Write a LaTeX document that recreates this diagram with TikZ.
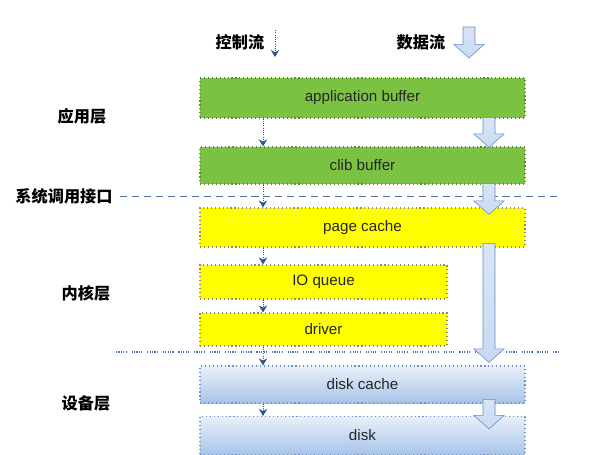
\documentclass[tikz,border=0pt]{standalone}
\usepackage{fontspec}
\setmainfont{Liberation Sans}
\newfontfamily\cjk{Noto Sans CJK SC}
\usepackage{tikz}
\usetikzlibrary{positioning, arrows, arrows.meta, calc}

\definecolor{appgreen}{RGB}{124,194,66}
\definecolor{appedge}{RGB}{88,140,60}
\definecolor{kernyellow}{RGB}{255,255,0}
\definecolor{kernedge}{RGB}{140,140,110}
\definecolor{devtop}{RGB}{232,240,250}
\definecolor{devbot}{RGB}{168,196,232}
\definecolor{devedge}{RGB}{110,146,200}
\definecolor{flowfill}{RGB}{200,218,242}
\definecolor{flowedge}{RGB}{100,140,196}
\definecolor{ctrlblue}{RGB}{45,85,145}
\definecolor{sepblue}{RGB}{80,115,165}

\tikzset{
  layerbox/.style={rectangle, inner sep=0pt, dotted, thick,
    font=\fontsize{10.8}{13}\selectfont, text=black!85},
  appbox/.style={layerbox, draw=appedge, fill=appgreen},
  kernbox/.style={layerbox, draw=kernedge, fill=kernyellow},
  devbox/.style={layerbox, draw=devedge, top color=devtop, bottom color=devbot},
  layerlabel/.style={font=\cjk\bfseries\fontsize{11.5}{13}\selectfont},
  ctrl/.style={-{Stealth[length=5pt,width=6pt]}, ctrlblue, densely dotted, semithick},
  dataarrow/.style={draw=flowedge, thin, top color=flowfill!70!white, bottom color=flowfill},
}

% fat data-flow arrow between two points on one vertical line
\newcommand\dataflow[2]{%
  \path[dataarrow] let \p1=(#1), \p2=(#2) in
    (\x1-0.15cm,\y1) -- (\x1-0.15cm,\y2+0.34cm) -- (\x1-0.38cm,\y2+0.34cm)
    -- (\x1,\y2) -- (\x1+0.38cm,\y2+0.34cm) -- (\x1+0.15cm,\y2+0.34cm)
    -- (\x1+0.15cm,\y1) -- cycle;}

\begin{document}
\begin{tikzpicture}[>=stealth', x=0.025cm, y=-0.025cm]
        \useasboundingbox (0,0) rectangle (607,455);
        % legend
        \node[layerlabel](ctrltitle) at (240,42) {控制流};
        \node[layerlabel](datatitle) at (421,42) {数据流};
        \coordinate (ctop) at (275,30);
        \coordinate (cbot) at (275,57);
        \coordinate (dtop) at (469,27);
        \coordinate (dbot) at (469,58);
        % layer names
        \node[layerlabel](applayer) at (82,116) {应用层};
        \node[layerlabel](syscall) at (64,196) {系统调用接口};
        \node[layerlabel](kernlayer) at (86,293) {内核层};
        \node[layerlabel](devlayer) at (86,403) {设备层};
        % separators
        \coordinate (sysL) at (120,196);
        \coordinate (sysR) at (560,196);
        \coordinate (devL) at (116,352);
        \coordinate (devR) at (560,352);
        \draw[sepblue, line width=0.6pt, dash pattern=on 5pt off 3.5pt] (sysL) -- (sysR);
        \draw[sepblue, line width=0.8pt, dash pattern=on 0.8pt off 0.9pt on 0.8pt off 0.9pt on 0.8pt off 0.9pt on 0.8pt off 0.9pt on 0.8pt off 3.5pt] (devL) -- (devR);
        % buffers
        \node[appbox, minimum width=8.125cm, minimum height=1cm](app) at (362.5,98) {application buffer};
        \node[appbox, minimum width=8.125cm, minimum height=0.925cm](clib) at (362.5,165.5) {clib buffer};
        \node[kernbox, minimum width=8.125cm, minimum height=0.975cm](page) at (362.5,227.5) {page cache};
        \node[kernbox, minimum width=6.175cm, minimum height=0.85cm](ioq) at (323.5,282) {IO queue};
        \node[kernbox, minimum width=6.175cm, minimum height=0.825cm](drv) at (323.5,329.5) {driver};
        \node[devbox, minimum width=8.125cm, minimum height=0.925cm](dcache) at (362.5,384.5) {disk cache};
        \node[devbox, minimum width=8.125cm, minimum height=0.95cm](disk) at (362.5,435.5) {disk};
        % control flow
        \coordinate (ccol) at (263,0);
        \coordinate (dcol) at (489,0);
        \draw[ctrl] (ctop) -- (cbot);
        \foreach \a/\b in {app/clib, clib/page, page/ioq, ioq/drv, drv/dcache, dcache/disk}
            \draw[ctrl] (\a.south -| ccol) -- (\b.north -| ccol);
        % data flow
        \dataflow{dtop}{dbot}
        \dataflow{$(app.south -| dcol)+(0,-1)$}{$(clib.north -| dcol)+(0,1)$}
        \dataflow{$(clib.south -| dcol)+(0,-1)$}{$(page.north -| dcol)+(0,7)$}
        \dataflow{$(page.south -| dcol)+(0,-4)$}{$(dcache.north -| dcol)+(0,-3)$}
        \dataflow{$(dcache.south -| dcol)+(0,-4)$}{$(disk.north -| dcol)+(0,13)$}
\end{tikzpicture}
\end{document}
